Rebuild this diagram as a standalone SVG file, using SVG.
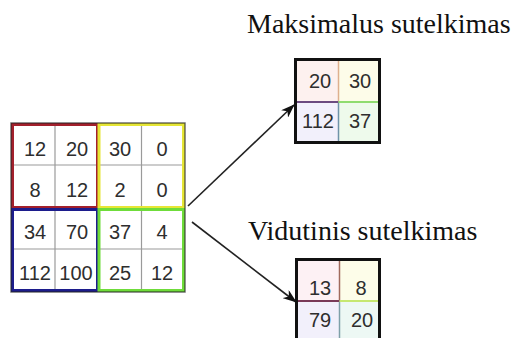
<svg xmlns="http://www.w3.org/2000/svg" width="523" height="338" viewBox="0 0 523 338">
  <style>
    .num { font-family: "Liberation Sans", Arial, sans-serif; font-size: 20px; fill: #2e2e2e; text-anchor: middle; }
    .title { font-family: "Liberation Serif", "Times New Roman", serif; font-size: 28px; fill: #111; }
    .thin { stroke: #9a9a9a; stroke-width: 1.2; fill: none; }
    .frame { fill: none; stroke: #111; stroke-width: 3; }
    .arrow { stroke: #222; stroke-width: 1.6; fill: none; marker-end: url(#head); }
  </style>
  <defs>
    <marker id="head" viewBox="0 0 14 10" refX="13" refY="5" markerWidth="14" markerHeight="10" markerUnits="userSpaceOnUse" orient="auto">
      <path d="M0,0 L14,5 L0,10 L4,5 z" fill="#111"/>
    </marker>
  </defs>
  <rect width="523" height="338" fill="#fff"/>

  <!-- 4x4 input feature map -->
  <g id="input-grid">
    <rect x="11" y="123" width="174" height="169" fill="#fff"/>
    <!-- thin cell separators -->
    <line class="thin" x1="55" y1="123" x2="55" y2="292"/>
    <line class="thin" x1="141.5" y1="123" x2="141.5" y2="292"/>
    <line class="thin" x1="11" y1="165" x2="185" y2="165"/>
    <line class="thin" x1="11" y1="249" x2="185" y2="249"/>
    <!-- 2x2 pooling windows -->
    <rect x="12.5" y="124.5" width="85" height="83" fill="none" stroke="#a3202c" stroke-width="3"/>
    <rect x="99" y="124.5" width="84.5" height="83" fill="none" stroke="#e6e635" stroke-width="3"/>
    <rect x="12.5" y="209.5" width="85" height="81" fill="none" stroke="#1c1c8c" stroke-width="3"/>
    <rect x="99" y="209.5" width="84.5" height="81" fill="none" stroke="#6fdc3a" stroke-width="3"/>
    <!-- outer edge -->
    <rect x="11" y="123" width="174" height="169" fill="none" stroke="#222" stroke-opacity="0.7" stroke-width="1.4"/>
    <text class="num" x="35" y="156">12</text>
    <text class="num" x="77" y="156">20</text>
    <text class="num" x="120" y="156">30</text>
    <text class="num" x="162" y="156">0</text>
    <text class="num" x="35" y="197">8</text>
    <text class="num" x="77" y="197">12</text>
    <text class="num" x="120" y="197">2</text>
    <text class="num" x="162" y="197">0</text>
    <text class="num" x="35" y="239">34</text>
    <text class="num" x="77" y="239">70</text>
    <text class="num" x="120" y="239">37</text>
    <text class="num" x="162" y="239">4</text>
    <text class="num" x="35" y="280">112</text>
    <text class="num" x="76" y="280">100</text>
    <text class="num" x="120" y="280">25</text>
    <text class="num" x="162" y="280">12</text>
  </g>

  <!-- connectors -->
  <g id="connectors">
    <line class="arrow" x1="188" y1="206" x2="294" y2="105"/>
    <line class="arrow" x1="192" y1="222" x2="296" y2="302"/>
  </g>

  <!-- max pooling result -->
  <g id="max-pool">
    <text class="title" x="247" y="33">Maksimalus sutelkimas</text>
    <rect x="295.5" y="59.5" width="43" height="42.5" fill="#fdf1ef"/>
    <rect x="338.5" y="59.5" width="41" height="42.5" fill="#fdfce9"/>
    <rect x="295.5" y="102" width="43" height="40.5" fill="#f2f0fb"/>
    <rect x="338.5" y="102" width="41" height="40.5" fill="#eefaec"/>
    <line x1="338.5" y1="59.5" x2="338.5" y2="102" stroke="#deb08e" stroke-width="1.5"/>
    <line x1="338.5" y1="102" x2="338.5" y2="142.5" stroke="#6f93a8" stroke-width="1.5"/>
    <line x1="295.5" y1="102" x2="338.5" y2="102" stroke="#6c4a80" stroke-width="2"/>
    <line x1="338.5" y1="102" x2="379.5" y2="102" stroke="#8fdc70" stroke-width="2"/>
    <rect class="frame" x="295.5" y="59.5" width="84" height="83"/>
    <text class="num" x="320" y="88">20</text>
    <text class="num" x="360" y="88">30</text>
    <text class="num" x="318" y="128">112</text>
    <text class="num" x="360" y="128">37</text>
  </g>

  <!-- average pooling result -->
  <g id="avg-pool">
    <text class="title" x="248" y="240">Vidutinis sutelkimas</text>
    <rect x="296.5" y="259.5" width="43" height="41.5" fill="#fdf1f4"/>
    <rect x="339.5" y="259.5" width="40" height="41.5" fill="#fdfde9"/>
    <rect x="296.5" y="301" width="43" height="42" fill="#f2f0fb"/>
    <rect x="339.5" y="301" width="40" height="42" fill="#edf8f4"/>
    <line x1="339.5" y1="259.5" x2="339.5" y2="301" stroke="#a06a5c" stroke-width="1.5"/>
    <line x1="339.5" y1="301" x2="339.5" y2="343" stroke="#7fa0a8" stroke-width="1.5"/>
    <line x1="296.5" y1="301" x2="339.5" y2="301" stroke="#7a3a58" stroke-width="2"/>
    <line x1="339.5" y1="301" x2="379.5" y2="301" stroke="#c6e870" stroke-width="2"/>
    <rect class="frame" x="296.5" y="259.5" width="83" height="85"/>
    <text class="num" x="320" y="295">13</text>
    <text class="num" x="361" y="295">8</text>
    <text class="num" x="320" y="327">79</text>
    <text class="num" x="362" y="327">20</text>
  </g>
</svg>
